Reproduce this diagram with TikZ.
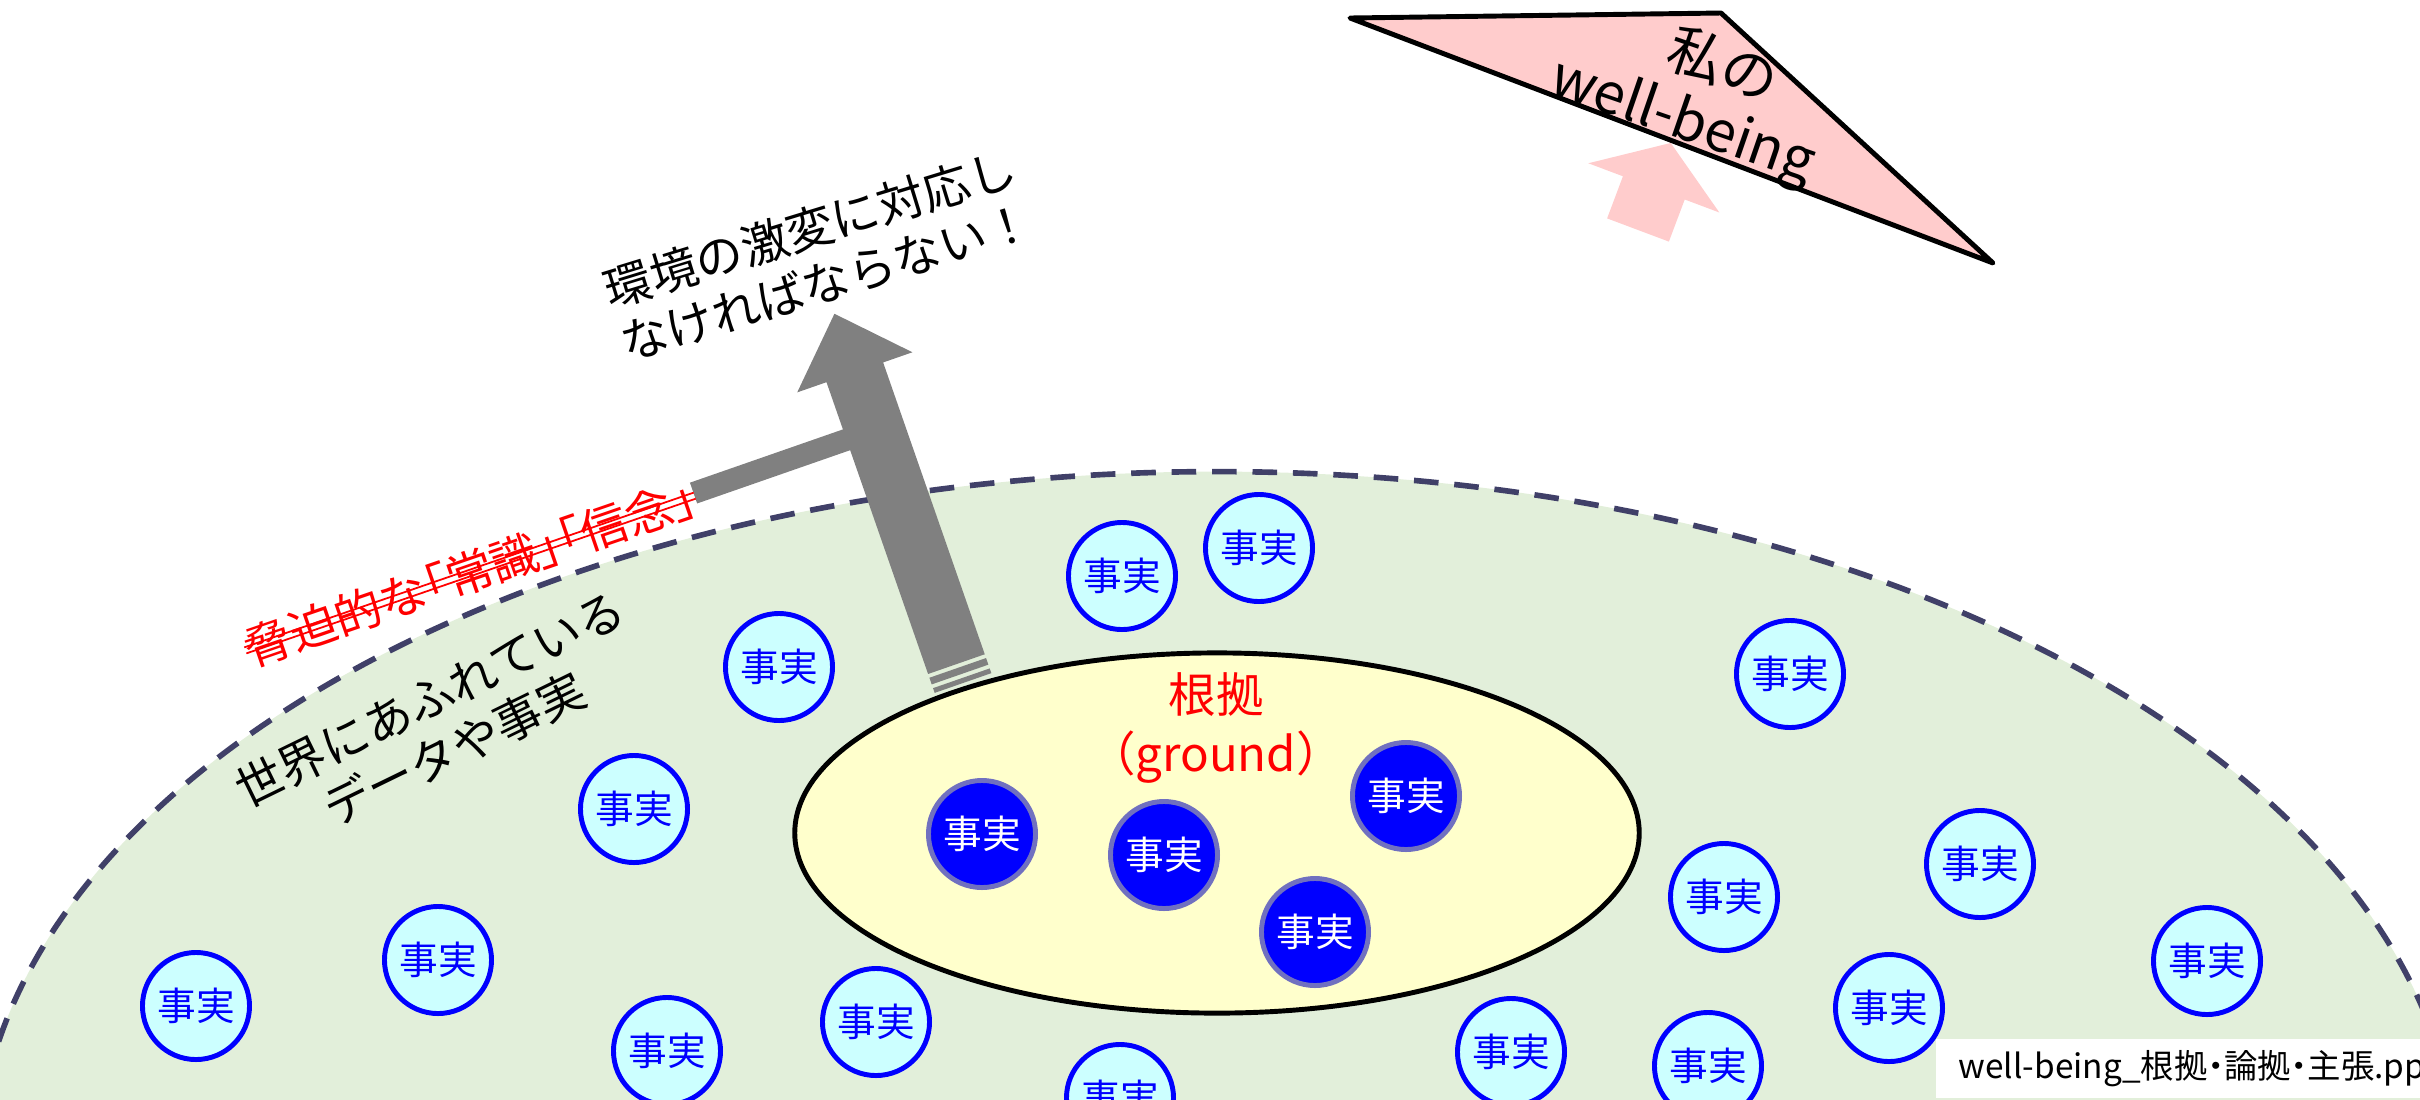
\documentclass[tikz,border=0pt]{standalone}
\usepackage{fontspec}
\setmainfont{Noto Sans CJK JP}
\newfontfamily\jpprop[RawFeature=+palt]{Noto Sans CJK JP}
\usetikzlibrary{calc}
\definecolor{worldgreen}{HTML}{E2EFDA}
\definecolor{worldedge}{HTML}{404068}
\definecolor{groundyellow}{HTML}{FFFFCC}
\definecolor{factcyan}{HTML}{CCFFFF}
\definecolor{factrim}{HTML}{7070C0}
\definecolor{wishpink}{HTML}{FFCCCC}
\definecolor{arrowgray}{HTML}{808080}
\tikzset{
  fact/.style={circle, draw=blue, fill=factcyan, line width=1.4pt, minimum size=1.07cm,
    inner sep=0pt, text=blue, font=\fontsize{11}{13}\selectfont},
  corefact/.style={fact, draw=factrim, fill=blue, text=white},
  bigtext/.style={align=center, font=\fontsize{13.5}{16}\selectfont},
  strike/.style={red, line width=0.5pt}
}
\begin{document}
\begin{tikzpicture}[x=0.01cm, y=-0.01cm]
\useasboundingbox (0,0) rectangle (2420,1099);
\draw[worldedge, fill=worldgreen, line width=1.6pt, dash pattern=on 7pt off 4.5pt]
  (1217,1175) ellipse [x radius=12.4cm, y radius=7.03cm];

\node[fact] (f1) at (1122,576) {事実};
\node[fact] (f2) at (1259,548) {事実};
\node[fact] (f3) at (779,667) {事実};
\node[fact] (f4) at (634,809) {事実};
\node[fact] (f5) at (1790,674) {事実};
\node[fact] (f6) at (1724,897) {事実};
\node[fact] (f7) at (1980,864) {事実};
\node[fact] (f8) at (2207,961) {事実};
\node[fact] (f9) at (1889,1008) {事実};
\node[fact] (f10) at (438,960) {事実};
\node[fact] (f11) at (196,1006) {事実};
\node[fact] (f12) at (667,1051) {事実};
\node[fact] (f13) at (876,1022) {事実};
\node[fact] (f14) at (1120,1098) {事実};
\node[fact] (f15) at (1511,1052) {事実};
\node[fact] (f16) at (1708,1066) {事実};

\draw[line width=1.4pt, fill=groundyellow] (1217,833) ellipse [x radius=4.22cm, y radius=1.8cm];
\node[corefact] (g1) at (982,834) {事実};
\node[corefact] (g2) at (1164,855) {事実};
\node[corefact] (g3) at (1406,796) {事実};
\node[corefact] (g4) at (1315,932) {事実};
\node[bigtext, text=red, font=\fontsize{13.5}{16.8}\selectfont] (groundlabel) at (1216,728) {根拠\\（ground）};

\coordinate (tail) at (963,683);
\begin{scope}[shift={(tail)}, rotate=19.2, x=0.01cm, y=0.01cm]
  \fill[arrowgray] (-30,0) rectangle (30,5);
  \fill[arrowgray] (-30,9) rectangle (30,16);
  \fill[arrowgray] (-30,20) -- (-30,329) -- (-61,329) -- (0,391) -- (61,329) -- (30,329) -- (30,20) -- cycle;
  \fill[arrowgray] (-192,257) rectangle (0,279);
\end{scope}

\node[bigtext, rotate=26] (world) at (442,724) {世界にあふれている\\データや事実};
\node[bigtext, rotate=17] (claim) at (818,255) {環境の激変に対応し\\なければならない！};
\node[text=red, inner sep=0pt, rotate=19, font=\jpprop\fontsize{13.5}{16}\selectfont] (myth) at (470,573) {脅迫的な「常識」「信念」};
\draw[strike] ($(myth.south west)!0.43!(myth.north west)$) -- ($(myth.south east)!0.43!(myth.north east)$);
\draw[strike] ($(myth.south west)!0.57!(myth.north west)$) -- ($(myth.south east)!0.57!(myth.north east)$);

\coordinate (wishtail) at (1638,230);
\fill[wishpink, shift={(wishtail)}, rotate=-20.6, x=0.01cm, y=0.01cm]
  (-33,0) -- (-33,45) -- (-70,45) -- (0,93) -- (70,45) -- (33,45) -- (33,0) -- cycle;
\draw[line width=1.4pt, line join=round, fill=wishpink] (1350,18) -- (1721,13) -- (1993,263) -- cycle;
\node[align=center, rotate=-19, font=\fontsize{16}{18}\selectfont] (mine) at (1693,92) {\hspace*{0.4cm}私の\\well-being};

\node[fill=white, anchor=north west, inner xsep=0.23cm, inner ysep=0pt, minimum height=0.59cm,
  text width=4.8cm, align=left, font=\jpprop\fontsize{9.5}{11}\selectfont] (fname) at (1935,1038) {well-being\_根拠・論拠・主張.pp};
\end{tikzpicture}
\end{document}
